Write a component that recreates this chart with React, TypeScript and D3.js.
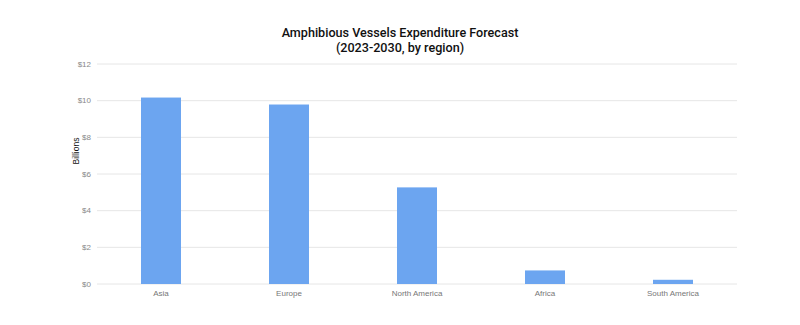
import React from "react";
import * as d3 from "d3";

const categories = ["Asia", "Europe", "North America", "Africa", "South America"];
const values = [10.17, 9.79, 5.27, 0.74, 0.23];
const yTicks = [0, 2, 4, 6, 8, 10, 12];
const titleLines = ["Amphibious Vessels Expenditure Forecast", "(2023-2030, by region)"];

const W = 800;
const H = 325;
const M = { left: 97, right: 63, top: 64, bottom: 41 };

export default function App() {
  const x = d3
    .scaleBand<string>()
    .domain(categories)
    .range([M.left, W - M.right])
    .paddingInner(0.6875)
    .paddingOuter(0.34375);
  const y = d3.scaleLinear().domain([0, 12]).range([H - M.bottom, M.top]);

  return (
    <svg width={W} height={H} style={{ position: "absolute", left: 0, top: 0, background: "#fff" }}>
      <rect x={0} y={0} width={W} height={H} fill="#fff" />
      {titleLines.map((t, i) => (
        <text
          key={t}
          x={400}
          y={37 + i * 15}
          textAnchor="middle"
          fontFamily="Roboto, 'Liberation Sans', sans-serif"
          fontWeight={500}
          fontSize={12.6}
          fill="#111"
        >
          {t}
        </text>
      ))}
      {yTicks.map((t) => (
        <g key={t}>
          <line x1={M.left} x2={W - M.right} y1={y(t)} y2={y(t)} stroke="#e6e6e6" strokeWidth={1} />
          <text
            x={M.left - 6}
            y={y(t)}
            dy="0.35em"
            textAnchor="end"
            fontFamily="'Liberation Sans', Arial, sans-serif"
            fontSize={8}
            fill="#888"
          >
            {d3.format("$")(t)}
          </text>
        </g>
      ))}
      {categories.map((c, i) => (
        <g key={c}>
          <rect
            x={x(c)}
            y={y(values[i])}
            width={x.bandwidth()}
            height={y(0) - y(values[i])}
            fill="#6ca5f0"
          />
          <text
            x={(x(c) as number) + x.bandwidth() / 2}
            y={y(0) + 12}
            textAnchor="middle"
            fontFamily="'Liberation Sans', Arial, sans-serif"
            fontSize={8}
            fill="#777"
          >
            {c}
          </text>
        </g>
      ))}
      <text
        transform={`translate(79,151) rotate(-90)`}
        textAnchor="middle"
        fontFamily="'Liberation Sans', Arial, sans-serif"
        fontWeight={500}
        fontSize={8.5}
        fill="#111"
      >
        Billions
      </text>
    </svg>
  );
}
